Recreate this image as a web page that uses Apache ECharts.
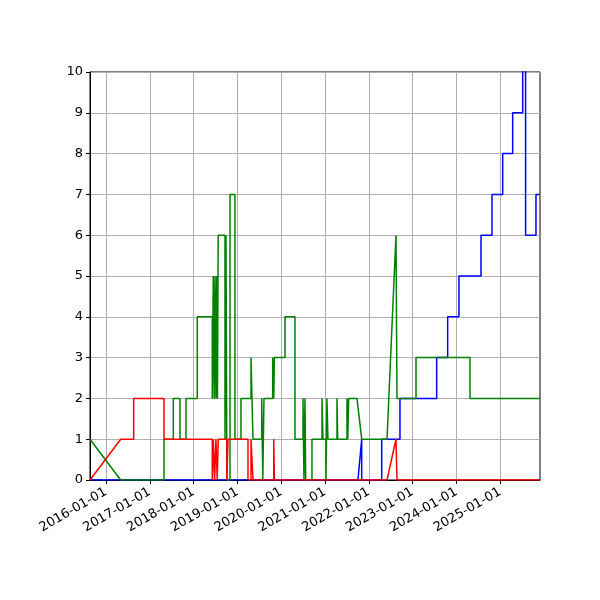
<!DOCTYPE html>
<html><head><meta charset="utf-8">
<script src="https://cdn.jsdelivr.net/npm/echarts@6/dist/echarts.min.js"></script>
<style>html,body{margin:0;padding:0;background:#fff}#c{width:600px;height:600px}</style>
</head><body><div id="c"></div>
<script>
// x values are decimal years
const yearTicks = [2016,2017,2018,2019,2020,2021,2022,2023,2024,2025];
const yTicks = [0,1,2,3,4,5,6,7,8,9,10];
const blueData = [[2015.635,0],[2021.753,0],[2021.838,1],[2021.838,0],[2022.295,0],[2022.295,1],[2022.712,1],[2022.712,2],[2023.550,2],[2023.550,3],[2023.801,3],[2023.801,4],[2024.059,4],[2024.059,5],[2024.562,5],[2024.562,6],[2024.813,6],[2024.813,7],[2025.057,7],[2025.057,8],[2025.285,8],[2025.285,9],[2025.514,9],[2025.514,10.5],[2025.58,10.5],[2025.58,6],[2025.817,6],[2025.817,7],[2025.909,7]];
const greenData = [[2015.635,1],[2016.336,0],[2017.324,0],[2017.324,1],[2017.537,1],[2017.537,2],[2017.689,2],[2017.689,1],[2017.826,1],[2017.826,2],[2018.084,2],[2018.084,4],[2018.427,4],[2018.427,2],[2018.45,2],[2018.45,5],[2018.47,5],[2018.47,2],[2018.49,2],[2018.49,5],[2018.51,5],[2018.51,2],[2018.53,2],[2018.53,5],[2018.545,5],[2018.545,2],[2018.562,2],[2018.562,6],[2018.717,6],[2018.717,1],[2018.74,1],[2018.74,6],[2018.76,6],[2018.76,0],[2018.831,0],[2018.831,7],[2018.945,7],[2018.945,1],[2019.082,1],[2019.082,2],[2019.311,2],[2019.311,3],[2019.356,3],[2019.356,1],[2019.555,1],[2019.555,2],[2019.58,2],[2019.58,0],[2019.607,0],[2019.607,2],[2019.806,2],[2019.806,3],[2019.83,3],[2019.83,2],[2019.845,2],[2019.845,3],[2020.087,3],[2020.087,4],[2020.315,4],[2020.315,1],[2020.498,1],[2020.498,2],[2020.52,2],[2020.52,0],[2020.543,0],[2020.543,2],[2020.56,2],[2020.56,0],[2020.703,0],[2020.703,1],[2020.932,1],[2020.932,2],[2020.954,2],[2020.954,1],[2021.023,1],[2021.023,0],[2021.045,0],[2021.045,2],[2021.068,2],[2021.068,1],[2021.274,1],[2021.274,2],[2021.29,2],[2021.29,1],[2021.502,1],[2021.502,2],[2021.52,2],[2021.52,1],[2021.54,1],[2021.54,2],[2021.731,2],[2021.838,1],[2022.416,1],[2022.621,6],[2022.644,2],[2023.078,2],[2023.078,3],[2024.311,3],[2024.311,2],[2025.909,2]];
const redData = [[2015.635,0],[2016.336,1],[2016.632,1],[2016.632,2],[2017.324,2],[2017.324,1],[2018.427,1],[2018.427,0],[2018.45,0],[2018.45,1],[2018.48,1],[2018.48,0],[2018.51,0],[2018.51,1],[2018.54,1],[2018.54,0],[2018.562,0],[2018.562,1],[2018.76,1],[2018.76,0],[2018.785,0],[2018.785,1],[2019.242,1],[2019.242,0],[2019.311,0],[2019.311,1],[2019.356,1],[2019.356,0],[2019.83,0],[2019.83,1],[2019.845,1],[2019.845,0],[2022.416,0],[2022.621,1],[2022.644,0],[2025.909,0]];

const font = {fontFamily:'DejaVu Sans', fontSize:13, color:'#000'};
const mk = (data,color)=>({type:'line',data:data,showSymbol:false,symbol:'none',clip:true,animation:false,
  lineStyle:{color:color,width:1.5},itemStyle:{color:color}});
const chart = echarts.init(document.getElementById('c'),null,{renderer:'canvas'});
chart.setOption({
  animation:false,
  grid:{left:90,right:60,top:72,bottom:120,show:true,borderColor:'#000',borderWidth:1,backgroundColor:'transparent'},
  xAxis:{type:'value',min:2015.635,max:2025.909,
    axisLine:{show:true,lineStyle:{color:'#000'}},
    axisTick:{show:true,inside:false,length:4,lineStyle:{color:'#000'},customValues:yearTicks},
    axisLabel:Object.assign({rotate:30,margin:11,customValues:yearTicks,formatter:v=>v+'-01-01'},font),
    splitLine:{show:true,lineStyle:{color:'#b0b0b0',width:1}}},
  yAxis:{type:'value',min:0,max:10,interval:1,
    axisLine:{show:true,lineStyle:{color:'#000'}},
    axisTick:{show:true,length:4,lineStyle:{color:'#000'}},
    axisLabel:Object.assign({margin:7},font),
    splitLine:{show:true,lineStyle:{color:'#b0b0b0',width:1}}},
  series:[mk(blueData,'#0000ff'),mk(greenData,'#008000'),mk(redData,'#ff0000')]
});
</script></body></html>
